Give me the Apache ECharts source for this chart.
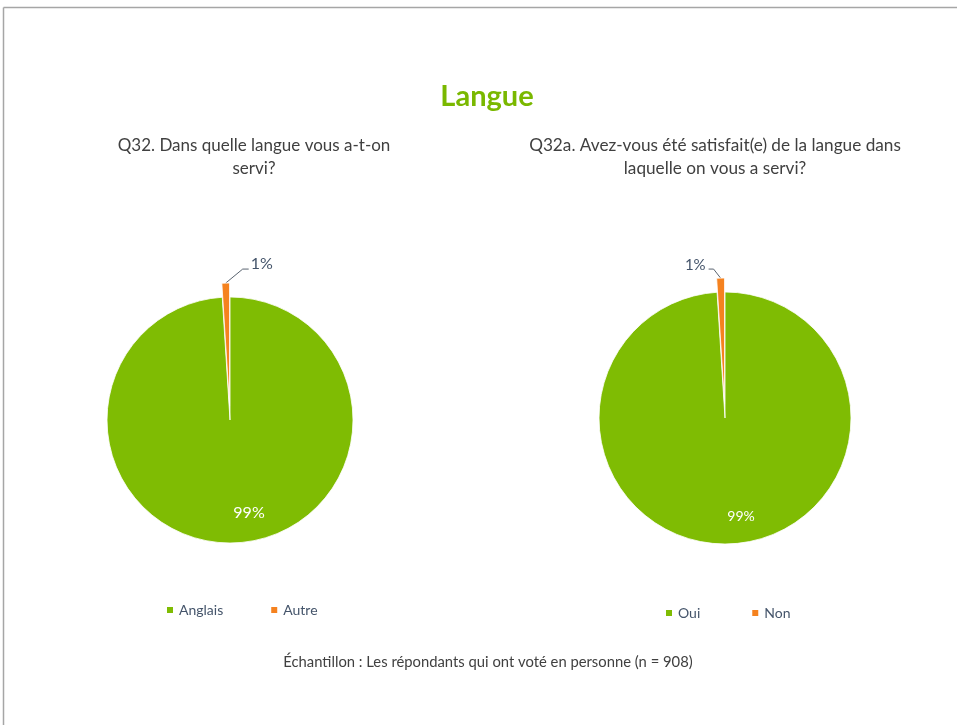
<!DOCTYPE html>
<html>
<head>
<meta charset="utf-8">
<script src="https://cdn.jsdelivr.net/npm/echarts@6/dist/echarts.min.js"></script>
<style>
html,body{margin:0;padding:0;background:#fff;}
#chart{width:957px;height:725px;}
</style>
</head>
<body>
<div id="chart"></div>
<script>
// ---- data ----
const chartTitle = 'Langue';
const q1Title = 'Q32. Dans quelle langue vous a-t-on\nservi?';
const q1Categories = ['Anglais', 'Autre'];
const q1Values = [99, 1];
const q2Title = 'Q32a. Avez-vous été satisfait(e) de la langue dans\nlaquelle on vous a servi?';
const q2Categories = ['Oui', 'Non'];
const q2Values = [99, 1];
const footnote = 'Échantillon : Les répondants qui ont voté en personne (n = 908)';

const GREEN = '#7fbc03';
const ORANGE = '#f5821f';
const FONT = 'Lato, "Open Sans", sans-serif';
const SLATE = '#44546a';

const chart = echarts.init(document.getElementById('chart'), null, {renderer: 'canvas'});

function buildData(cats, vals, insideSize, outSize) {
  return cats.map((c, i) => ({
    name: c,
    value: vals[i],
    selected: i === 1,
    label: i === 0
      ? {position: 'inside', color: '#ffffff', fontSize: insideSize}
      : {position: 'outside', color: SLATE, fontSize: outSize}
  }));
}

// leader-line geometry: first segment (ax, ay), second segment length s2, text gap g, text vertical shift vy
function makeLayout(cfg) {
  return function (params) {
    if (params.dataIndex === 0) {
      return {dx: cfg.inDx, dy: cfg.inDy};
    }
    const pts = params.labelLinePoints;
    const lr = params.labelRect;
    if (!pts || !lr) return {};
    const side = cfg.side;
    const p0 = pts[0];
    const p1 = [p0[0] + cfg.ax, p0[1] + cfg.ay];
    const p2 = [p1[0] + side * cfg.s2, p1[1]];
    const targetX = p2[0] + side * cfg.g;
    const targetCY = p2[1] + cfg.vy;
    let anchorX;
    if (params.align === 'right') anchorX = lr.x + lr.width;
    else if (params.align === 'center') anchorX = lr.x + lr.width / 2;
    else anchorX = lr.x;
    const cy = lr.y + lr.height / 2;
    return {
      dx: targetX - anchorX,
      dy: targetCY - cy,
      align: side > 0 ? 'left' : 'right',
      labelLinePoints: [p0, p1, p2]
    };
  };
}

function pieSeries(cats, vals, center, radius, cfg) {
  return {
    type: 'pie',
    center: center,
    radius: radius,
    startAngle: 90,
    clockwise: true,
    selectedMode: 'multiple',
    selectedOffset: 14,
    animation: false,
    avoidLabelOverlap: false,
    itemStyle: {borderColor: '#ffffff', borderWidth: 0.8},
    label: {
      formatter: '{c}%',
      fontFamily: FONT
    },
    labelLine: {show: true, length: 14, length2: 6, lineStyle: {color: '#5a6470', width: 1}},
    labelLayout: makeLayout(cfg),
    emphasis: {disabled: true},
    select: {itemStyle: {}},
    data: buildData(cats, vals, cfg.inSize, cfg.outSize)
  };
}

function legend(cats, left, top, gap) {
  return {
    data: cats,
    left: left,
    top: top,
    icon: 'rect',
    itemWidth: 8,
    itemHeight: 8,
    itemGap: gap,
    selectedMode: false,
    textStyle: {color: SLATE, fontSize: 14, fontFamily: FONT}
  };
}

const option = {
  backgroundColor: '#ffffff',
  color: [GREEN, ORANGE],
  legend: [
    legend(q1Categories, 160, 598, 46),
    legend(q2Categories, 659, 601, 50)
  ],
  graphic: [
    {type: 'line', shape: {x1: 3.5, y1: 7.5, x2: 957, y2: 7.5}, style: {stroke: '#a6a6a6', lineWidth: 1.5}, silent: true},
    {type: 'line', shape: {x1: 3.5, y1: 7.5, x2: 3.5, y2: 725}, style: {stroke: '#a6a6a6', lineWidth: 1.5}, silent: true},
    {type: 'text', x: 487, y: 97, style: {text: chartTitle, align: 'center', verticalAlign: 'middle', fontSize: 29, fontWeight: 'bold', fontFamily: FONT, fill: '#7ab800'}},
    {type: 'text', x: 254, y: 134, style: {text: q1Title, align: 'center', verticalAlign: 'top', fontSize: 17, lineHeight: 23, fontFamily: FONT, fill: '#404040'}},
    {type: 'text', x: 715, y: 134, style: {text: q2Title, align: 'center', verticalAlign: 'top', fontSize: 17.2, lineHeight: 23, fontFamily: FONT, fill: '#404040'}},
    {type: 'text', x: 488, y: 662, style: {text: footnote, align: 'center', verticalAlign: 'middle', fontSize: 14.8, fontFamily: FONT, fill: '#404040'}}
  ],
  series: [
    pieSeries(q1Categories, q1Values, [230, 420], 123,
      {side: 1, ax: 17, ay: -14, s2: 6, g: 2, vy: -5, inSize: 16, outSize: 16, inDx: 17, inDy: 28}),
    pieSeries(q2Categories, q2Values, [725, 418], 126,
      {side: -1, ax: -7, ay: -9, s2: 5, g: 3, vy: -4, inSize: 14, outSize: 15, inDx: 14, inDy: 33})
  ]
};

chart.setOption(option);
</script>
</body>
</html>
